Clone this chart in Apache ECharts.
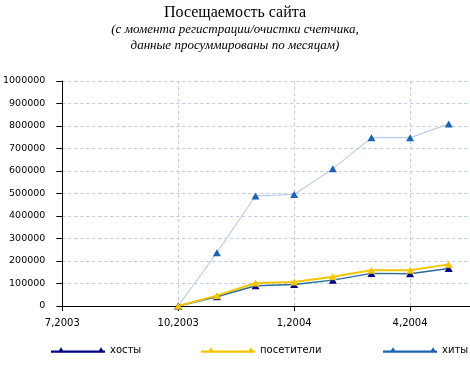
<!DOCTYPE html>
<html><head><meta charset="utf-8">
<script src="https://cdn.jsdelivr.net/npm/echarts@6/dist/echarts.min.js"></script>
<style>html,body{margin:0;padding:0;background:#fff}#c{width:470px;height:365px}</style>
</head><body><div id="c"></div>
<script>
const titleText = 'Посещаемость сайта';
const subText = '(с момента регистрации/очистки счетчика,\nданные просуммированы по месяцам)';
const months = ['10,2003','11,2003','12,2003','1,2004','2,2004','3,2004','4,2004','5,2004'];
const hosts = [0, 41000, 90000, 96000, 115000, 145000, 143000, 167000];
const visitors = [0, 46000, 102000, 107000, 130000, 159000, 159000, 185000];
const hits = [0, 237000, 489000, 496000, 610000, 748000, 748000, 809000];
const seriesNames = ['хосты', 'посетители', 'хиты'];

const START_M = 7, START_Y = 2003;
function idx(lbl){ const [m,y] = lbl.split(',').map(Number); return (y-START_Y)*12 + m - START_M; }
function pairs(vals){ return months.map((l,i)=>[idx(l), vals[i]]); }
function lbl(v){ if (Math.abs(v - Math.round(v))>1e-6) return ''; const t = START_M - 1 + Math.round(v); return ((t%12)+1)+','+(START_Y+Math.floor(t/12)); }

const chart = echarts.init(document.getElementById('c'));
const sans = 'DejaVu Sans';
const icon = 'path://M0,3.2H54V5.6H0Z M6.5,5.6L10,0L13.5,5.6Z M46.5,5.6L50,0L53.5,5.6Z';
const cols = {hosts:'#000080', vis:'#f2c500', hits:'#1c63b0'};
function legend(name, left, color){
  return {data:[{name, itemStyle:{color}}], left, top:345, padding:0, icon, itemWidth:54, itemHeight:6, itemGap:0,
    textStyle:{fontFamily:sans, fontSize:10, color:'#000'}, selectedMode:false};
}
chart.setOption({
  animation:false,
  backgroundColor:'#fff',
  title:{text:titleText, subtext:subText, left:'center', top:0, itemGap:1,
    textStyle:{fontFamily:'Liberation Serif', fontSize:16, fontWeight:'normal', color:'#000'},
    subtextStyle:{fontFamily:'Liberation Serif', fontSize:13, fontStyle:'italic', color:'#000', lineHeight:16}},
  legend:[legend(seriesNames[0],51,cols.hosts), legend(seriesNames[1],201,cols.vis), legend(seriesNames[2],383,cols.hits)],
  grid:{left:62, right:0, top:81, bottom:59, containLabel:false},
  xAxis:{type:'value', min:0, max:10.55, interval:3,
    axisLine:{lineStyle:{color:'#000', width:1}},
    axisTick:{show:true, length:5, lineStyle:{color:'#000'}},
    axisLabel:{formatter:lbl, fontFamily:sans, fontSize:10, color:'#000', margin:12, showMaxLabel:false},
    splitLine:{show:true, lineStyle:{type:[3,3], color:'#b9c9e6'}}},
  yAxis:{type:'value', min:0, max:1000000, interval:100000,
    axisLine:{show:true, lineStyle:{color:'#000', width:1}},
    axisTick:{show:true, length:6, lineStyle:{color:'#000'}},
    axisLabel:{fontFamily:sans, fontSize:9.5, color:'#000', margin:17, formatter:v=>String(v)},
    splitLine:{show:true, lineStyle:{type:[3,3], color:'#b9c9e6'}}},
  series:[
    {name:seriesNames[2], type:'line', data:pairs(hits), symbol:'triangle', symbolSize:[8,7],
      lineStyle:{color:'#a9bfe9', width:1}, itemStyle:{color:cols.hits}},
    {name:seriesNames[0], type:'line', data:pairs(hosts), symbol:'triangle', symbolSize:[8,7],
      lineStyle:{color:'#2a6a9c', width:1.5}, itemStyle:{color:cols.hosts}},
    {name:seriesNames[1], type:'line', data:pairs(visitors), symbol:'triangle', symbolSize:[8,7],
      lineStyle:{color:'#f2c500', width:2}, itemStyle:{color:cols.vis}}
  ]
});
</script></body></html>
